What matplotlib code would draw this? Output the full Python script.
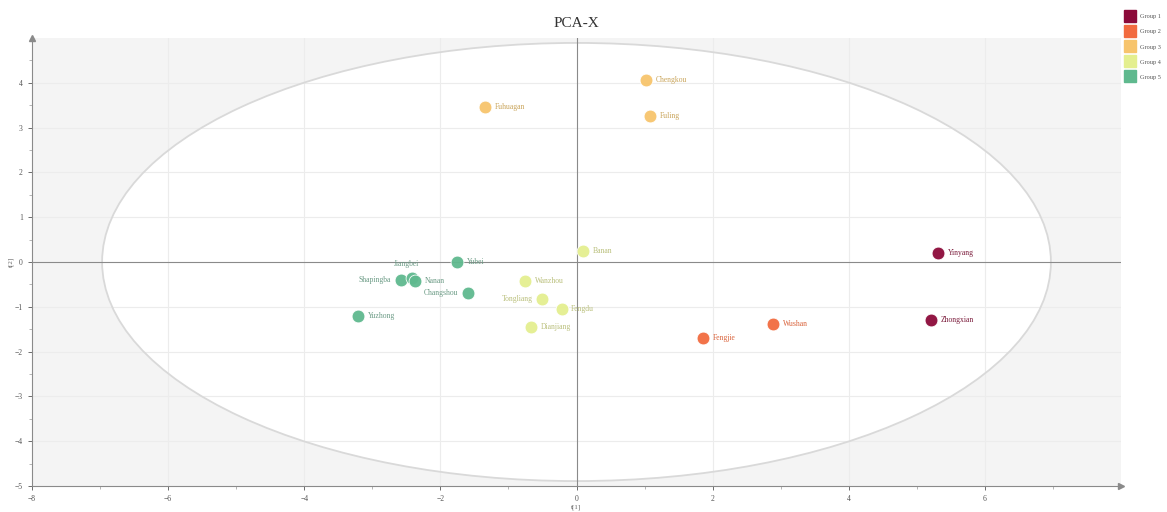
import matplotlib
matplotlib.use("Agg")
import matplotlib.pyplot as plt
from matplotlib.patches import Ellipse
from matplotlib.lines import Line2D
import numpy as np

plt.rcParams['font.family'] = ['Liberation Serif', 'DejaVu Serif']

# ---- data ----
names = ["Yinyang", "Zhongxian", "Fengjie", "Wushan", "Chengkou", "Fuling", "Fuhuagan",
         "Banan", "Wanzhou", "Tongliang", "Fengdu", "Dianjiang",
         "Yubei", "Shapingba", "Jiangbei", "Nanan", "Changshou", "Yuzhong"]
t1 = [5.31, 5.21, 1.86, 2.89, 1.02, 1.08, -1.34,
      0.10, -0.75, -0.50, -0.22, -0.67,
      -1.75, -2.58, -2.42, -2.37, -1.60, -3.21]
t2 = [0.21, -1.29, -1.69, -1.38, 4.07, 3.27, 3.47,
      0.25, -0.42, -0.82, -1.06, -1.44,
      0.00, -0.40, -0.36, -0.42, -0.69, -1.20]
groups = [1, 1, 2, 2, 3, 3, 3,
          4, 4, 4, 4, 4,
          5, 5, 5, 5, 5, 5]
group_labels = ["Group 1", "Group 2", "Group 3", "Group 4", "Group 5"]
group_colors = ["#8c0a3a", "#f26b3f", "#f7c46c", "#e4ef8f", "#5fb98e"]
label_colors = ["#7a1a3a", "#d9623a", "#c9a45a", "#b9bf7a", "#6a9a84"]
ellipse_a, ellipse_b = 6.97, 4.89

# label placement: 'r' right, 'l' left, 't' top
label_side = ['r', 'r', 'r', 'r', 'r', 'r', 'r',
              'r', 'r', 'l', 'r', 'r',
              'r', 'l', 't', 'r', 'l', 'r']

fig = plt.figure(figsize=(11.67, 5.12), dpi=100)
ax = fig.add_axes([32/1167, 26/512, (1121-32)/1167, (486-38)/512])
ax.set_xlim(-8, 8)
ax.set_ylim(-5, 5)
ax.set_facecolor("#f4f4f4")

# grid
for gx in [-6, -4, -2, 2, 4, 6]:
    ax.axvline(gx, color="#ececec", lw=0.8, zorder=0.2)
for gy in [-4, -3, -2, -1, 1, 2, 3, 4]:
    ax.axhline(gy, color="#ececec", lw=0.8, zorder=0.2)

ell = Ellipse((0, 0), 2*ellipse_a, 2*ellipse_b, facecolor="white", edgecolor="none", zorder=0.1)
ax.add_patch(ell)
ell2 = Ellipse((0, 0), 2*ellipse_a, 2*ellipse_b, facecolor="none", edgecolor="#d9d9d9", lw=1.3, zorder=1)
ax.add_patch(ell2)

ax.axvline(0, color="#8a8a8a", lw=0.8, zorder=1.2)
ax.axhline(0, color="#8a8a8a", lw=0.8, zorder=1.2)

# points
for n, x, y, g, side in zip(names, t1, t2, groups, label_side):
    c = group_colors[g-1]
    ax.scatter([x], [y], s=85, color=c, edgecolors="#ffffff", linewidths=0.6, alpha=0.95, zorder=3)
    lc = label_colors[g-1]
    if side == 'r':
        ax.annotate(n, (x, y), xytext=(7, 0), textcoords="offset points", fontsize=5.5,
                    color=lc, va="center", ha="left", zorder=4)
    elif side == 'l':
        ax.annotate(n, (x, y), xytext=(-7, 0), textcoords="offset points", fontsize=5.5,
                    color=lc, va="center", ha="right", zorder=4)
    else:
        ax.annotate(n, (x, y), xytext=(-4, 7), textcoords="offset points", fontsize=5.5,
                    color=lc, va="bottom", ha="center", zorder=4)

# axes styling
for s in ["top", "right"]:
    ax.spines[s].set_visible(False)
ax.spines["left"].set_color("#8a8a8a")
ax.spines["bottom"].set_color("#8a8a8a")
ax.spines["left"].set_linewidth(0.8)
ax.spines["bottom"].set_linewidth(0.8)
ax.plot(1, 0, ">", transform=ax.transAxes, color="#8a8a8a", ms=4, clip_on=False)
ax.plot(0, 1, "^", transform=ax.transAxes, color="#8a8a8a", ms=4, clip_on=False)

ax.set_xticks([-8, -6, -4, -2, 0, 2, 4, 6])
ax.set_xticks([-7, -5, -3, -1, 1, 3, 5, 7], minor=True)
ax.set_yticks([-5, -4, -3, -2, -1, 0, 1, 2, 3, 4])
ax.set_yticks(np.arange(-4.5, 5, 1.0), minor=True)
ax.tick_params(axis="both", which="major", labelsize=5.5, colors="#555555", length=3, width=0.6)
ax.tick_params(axis="both", which="minor", length=2, width=0.5, colors="#999999")

ax.set_xlabel("t[1]", fontsize=5, color="#666666", labelpad=1)
ax.set_ylabel("t[2]", fontsize=5, color="#666666", labelpad=1)
ax.set_title("PCA-X", fontsize=11, color="#333333", pad=8)

handles = [Line2D([], [], marker="s", ls="none", markersize=8, color=c) for c in group_colors]
fig.legend(handles, group_labels, loc="upper left", bbox_to_anchor=(1127/1167, 1 - 14/512),
           fontsize=4.5, frameon=False, handlelength=0.8, handletextpad=1.2,
           labelspacing=1.55, borderpad=0, borderaxespad=0, labelcolor="#555555")

fig.savefig("out.png", dpi=100)
